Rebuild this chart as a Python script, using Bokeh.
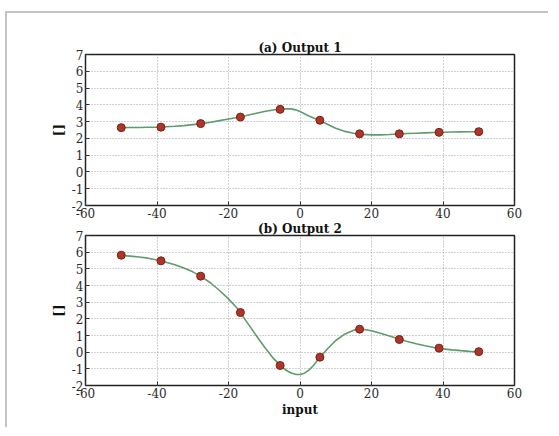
from bokeh.plotting import figure
from bokeh.layouts import column
from bokeh.models import FixedTicker, Range1d, ColumnDataSource, PrintfTickFormatter
from bokeh.embed import file_html
from bokeh.resources import INLINE

# ---- data ----
sample_x = [-50.0, -38.89, -27.78, -16.67, -5.56, 5.56, 16.67, 27.78, 38.89, 50.0]
output1_points = [2.64, 2.67, 2.88, 3.27, 3.73, 3.08, 2.27, 2.27, 2.36, 2.40]
output2_points = [5.82, 5.48, 4.56, 2.38, -0.80, -0.30, 1.38, 0.76, 0.24, 0.03]

curve_x = [-50, -47.5, -45, -42.5, -40, -37.5, -35, -32.5, -30, -27.5, -25, -22.5,
           -20, -17.5, -15, -12.5, -10, -7.5, -5, -3.75, -2.5, -1.25, 0, 1.25, 2.5,
           3.75, 5, 7.5, 10, 12.5, 15, 17.5, 20, 22.5, 25, 27.5, 30, 32.5, 35, 37.5,
           40, 42.5, 45, 47.5, 50]
output1_curve = [2.64, 2.65, 2.65, 2.66, 2.67, 2.69, 2.72, 2.76, 2.82, 2.88, 2.96, 3.06,
                 3.16, 3.25, 3.36, 3.48, 3.60, 3.69, 3.75, 3.77, 3.76, 3.70, 3.60, 3.47,
                 3.33, 3.22, 3.12, 2.86, 2.60, 2.42, 2.31, 2.24, 2.21, 2.21, 2.23, 2.26,
                 2.29, 2.31, 2.33, 2.35, 2.37, 2.38, 2.39, 2.40, 2.40]
output2_curve = [5.80, 5.76, 5.71, 5.64, 5.53, 5.40, 5.24, 5.05, 4.82, 4.52, 4.15, 3.70,
                 3.20, 2.62, 1.85, 1.08, 0.32, -0.36, -0.90, -1.10, -1.25, -1.33, -1.34,
                 -1.26, -1.08, -0.80, -0.46, 0.16, 0.70, 1.08, 1.32, 1.38, 1.28, 1.13,
                 0.97, 0.80, 0.64, 0.50, 0.38, 0.28, 0.20, 0.14, 0.09, 0.05, 0.02]

x_ticks = [-60, -40, -20, 0, 20, 40, 60]
y_ticks = [-2, -1, 0, 1, 2, 3, 4, 5, 6, 7]
titles = ["(a) Output 1", "(b) Output 2"]
y_label = "[]"
x_label = "input"

FONT = "DejaVu Serif"
LINE_COLOR = "#5e9c6c"
MARK_FILL = "#ad362b"
MARK_EDGE = "#7e1e16"


def make_fig(title, pts, curve, height, top, bottom, xlabel):
    p = figure(width=541, height=height, output_backend="svg", toolbar_location=None,
               x_range=Range1d(-60, 60), y_range=Range1d(-2, 7),
               min_border_left=78, min_border_right=34,
               min_border_top=top, min_border_bottom=bottom)
    p.title.text = title
    p.title.align = "center"
    p.title.text_font = FONT
    p.title.text_font_size = "12px"
    p.title.text_font_style = "bold"
    p.title.text_color = "#111111"
    p.title.standoff = 0
    p.background_fill_color = "white"
    p.border_fill_color = None
    p.outline_line_color = "#222222"
    p.outline_line_width = 1.5

    for ax in (p.xaxis[0], p.yaxis[0]):
        ax.axis_line_color = None
        ax.major_tick_in = 4
        ax.major_tick_out = 0
        ax.minor_tick_line_color = None
        ax.major_tick_line_color = "#333333"
        ax.major_label_text_font = FONT
        ax.major_label_text_font_size = "12px"
        ax.major_label_text_color = "#2a2a2a"
        ax.major_label_standoff = 2
        ax.formatter = PrintfTickFormatter(format="%d")
        ax.axis_label_text_font = FONT
        ax.axis_label_text_font_size = "12px"
        ax.axis_label_text_font_style = "bold"
        ax.axis_label_text_color = "#111111"
    p.xaxis[0].ticker = FixedTicker(ticks=x_ticks)
    p.yaxis[0].ticker = FixedTicker(ticks=y_ticks)
    p.yaxis[0].axis_label = y_label
    p.yaxis[0].axis_label_text_font_size = "13px"
    p.yaxis[0].axis_label_standoff = 3
    if xlabel:
        p.xaxis[0].axis_label = xlabel
        p.xaxis[0].axis_label_standoff = 2

    p.xgrid.ticker = FixedTicker(ticks=x_ticks)
    p.ygrid.ticker = FixedTicker(ticks=y_ticks)
    for g in (p.xgrid[0], p.ygrid[0]):
        g.grid_line_color = "#a0a0a0"
        g.grid_line_dash = "1 2"
        g.grid_line_width = 1

    p.line(x=curve_x, y=curve, line_color=LINE_COLOR, line_width=1.6)
    src = ColumnDataSource(dict(x=sample_x, y=pts))
    p.scatter(x="x", y="y", source=src, size=8, fill_color=MARK_FILL,
              line_color=MARK_EDGE, line_width=1)
    return p


f1 = make_fig(titles[0], output1_points, output1_curve, 208, 41, 16, None)
f2 = make_fig(titles[1], output2_points, output2_curve, 209, 17, 42, x_label)
f2.margin = (-3, 0, 0, 0)

layout = column(f1, f2, margin=(11, 0, 0, 5),
                styles={"border-left": "2px solid #c4c4c4",
                        "border-top": "2px solid #c4c4c4"})

open("out.html", "w").write(file_html(layout, INLINE))
